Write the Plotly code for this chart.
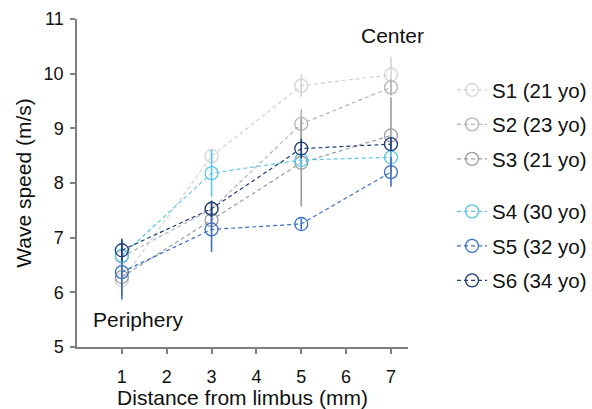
import plotly.graph_objects as go

# Distance from the limbus (mm) at which wave speed was measured
distance_mm = [1, 3, 5, 7]

subjects = ["S1 (21 yo)", "S2 (23 yo)", "S3 (21 yo)",
            "S4 (30 yo)", "S5 (32 yo)", "S6 (34 yo)"]

# Mean wave speed (m/s) per subject
s1_speed = [6.22, 8.49, 9.78, 9.98]
s2_speed = [6.65, 7.52, 9.08, 9.75]
s3_speed = [6.28, 7.32, 8.37, 8.87]
s4_speed = [6.67, 8.18, 8.42, 8.47]
s5_speed = [6.37, 7.15, 7.25, 8.20]
s6_speed = [6.77, 7.53, 8.63, 8.71]

# Standard deviations (m/s)
s1_sd = [0.15, 0.13, 0.21, 0.33]
s2_sd = [0.35, 0.15, 0.27, 0.15]
s3_sd = [0.35, 0.20, 0.80, 0.70]
s4_sd = [0.30, 0.43, 0.10, 0.15]
s5_sd = [0.50, 0.41, 0.10, 0.27]
s6_sd = [0.20, 0.15, 0.18, 0.12]

speeds = [s1_speed, s2_speed, s3_speed, s4_speed, s5_speed, s6_speed]
sds = [s1_sd, s2_sd, s3_sd, s4_sd, s5_sd, s6_sd]
colors = ["#d2d2d2", "#b4b4b4", "#9c9c9c", "#5cc6e6", "#3b6fc2", "#1f3d78"]

# Legend rows (pixel centre of each entry) -> paper coordinates
plot_top, plot_bottom = 19, 347
legend_rows_px = [90, 124.5, 159, 211.5, 246, 280.5]

fig = go.Figure()
legend_names = ["legend"] + [f"legend{i}" for i in range(2, 7)]

for name, y, sd, col, lg in zip(subjects, speeds, sds, colors, legend_names):
    fig.add_trace(go.Scatter(
        x=distance_mm, y=y, name=name, mode="lines+markers",
        line=dict(color=col, width=1.2, dash="4px,3px"),
        marker=dict(symbol="circle-open", size=13, color=col,
                    line=dict(width=1.3, color=col)),
        error_y=dict(type="data", array=sd, visible=True,
                     color=col, thickness=1.6, width=0),
        legend=lg,
    ))

layout_legends = {}
for lg, py in zip(legend_names, legend_rows_px):
    layout_legends[lg] = dict(
        x=1.133, xanchor="left",
        y=(plot_bottom - py) / (plot_bottom - plot_top), yanchor="middle",
        bgcolor="rgba(0,0,0,0)", borderwidth=0,
        font=dict(size=20.5, color="#111111", family="Liberation Sans, Arial, sans-serif"),
        itemsizing="trace",
    )

axis_common = dict(
    showgrid=False, zeroline=False, showline=True,
    linecolor="#7f7f7f", linewidth=1.5,
    ticks="outside", ticklen=5, tickwidth=1.5, tickcolor="#7f7f7f",
    tickfont=dict(size=18, color="#111111"),
)

fig.update_layout(
    width=592, height=409,
    margin=dict(l=77, r=184, t=19, b=62, autoexpand=False),
    paper_bgcolor="white", plot_bgcolor="white",
    font=dict(family="Liberation Sans, Arial, sans-serif", color="#111111"),
    showlegend=True,
    xaxis=dict(axis_common, range=[0, 7.38], tickvals=[1, 2, 3, 4, 5, 6, 7],
               ticklabelstandoff=8,
               title=dict(text="Distance from limbus (mm)", font=dict(size=21), standoff=0)),
    yaxis=dict(axis_common, range=[5, 11], tickvals=[5, 6, 7, 8, 9, 10, 11],
               ticklabelstandoff=3,
               title=dict(text="Wave speed (m/s)", font=dict(size=21), standoff=6)),
    annotations=[
        dict(x=7.04, y=10.70, xref="x", yref="y", text="Center", showarrow=False,
             font=dict(size=21, color="#111111")),
        dict(x=1.36, y=5.50, xref="x", yref="y", text="Periphery", showarrow=False,
             font=dict(size=21, color="#111111")),
    ],
    **layout_legends,
)

fig.write_html("out.html")
